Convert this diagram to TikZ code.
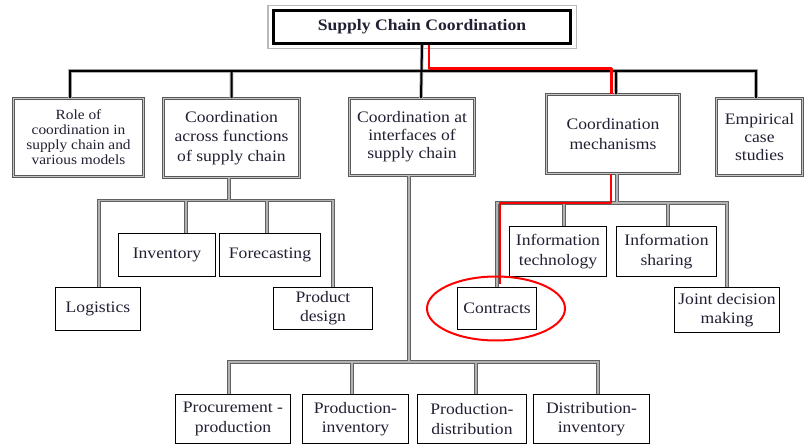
\documentclass[tikz,border=0pt]{standalone}
\usepackage{fontspec}
\setmainfont{Liberation Serif}[FakeStretch=1.1]
\definecolor{ink}{rgb}{0.13,0.13,0.2}
\definecolor{hilite}{rgb}{1,0,0}

\begin{document}
\begin{tikzpicture}[x=1pt,y=-1pt,
  every node/.style={text=ink, align=center, inner sep=0pt},
  headbox/.style={draw=black, line width=3pt, fill=white,
    minimum width=297pt, minimum height=33pt,
    font=\bfseries\fontsize{16}{19}\selectfont},
  topicbox/.style={draw=black!65, line width=0.9pt, double=gray!45,
    double distance=1.3pt, fill=white, font=\fontsize{16}{19.5}\selectfont},
  leafbox/.style={draw=black, line width=1.4pt, fill=white,
    font=\fontsize{16}{19.3}\selectfont},
  trunkline/.style={draw=gray!60, line width=0.8pt, double=black, double distance=2pt},
  branchline/.style={draw=black!62, line width=0.9pt, double=gray!60, double distance=1.4pt},
  redline/.style={draw=hilite, line width=2.4pt, line join=round}
]
\useasboundingbox (0,0) rectangle (806,446);

% root
\node[headbox] (head) at (422,27) {Supply Chain Coordination};
\draw[gray!55, line width=1.4pt] ([shift={(-4.2,-3.6)}]head.north west) rectangle ([shift={(4.2,3.6)}]head.south east);

% first level
\node[topicbox, minimum width=130pt, minimum height=78pt, font=\fontsize{14}{15}\selectfont]
  (role) at (78.5,137.5) {Role of\\coordination in\\supply chain and\\various models};
\node[topicbox, minimum width=136pt, minimum height=79pt]
  (across) at (231.5,138) {Coordination\\across functions\\of supply chain};
\node[topicbox, minimum width=125pt, minimum height=77pt, font=\fontsize{16}{18}\selectfont]
  (ifc) at (412,137) {Coordination at\\interfaces of\\supply chain};
\node[topicbox, minimum width=133pt, minimum height=79pt]
  (mech) at (613,134) {Coordination\\mechanisms};
\node[topicbox, minimum width=86pt, minimum height=77pt, font=\fontsize{16}{18}\selectfont]
  (emp) at (759.5,137) {Empirical\\case\\studies};

% functions
\node[leafbox, minimum width=96.6pt, minimum height=42.6pt] (inv) at (167,255) {Inventory};
\node[leafbox, minimum width=100.6pt, minimum height=42.6pt] (fcst) at (270,255) {Forecasting};
\node[leafbox, minimum width=84.6pt, minimum height=42.6pt] (logi) at (98,309) {Logistics};
\node[leafbox, minimum width=98.6pt, minimum height=41.6pt] (prod) at (323,308.5) {Product\\design};

% mechanisms
\node[leafbox, minimum width=96.6pt, minimum height=49.6pt] (itech) at (558,251.5) {Information\\technology};
\node[leafbox, minimum width=99.6pt, minimum height=49.6pt] (ishare) at (666.5,251.5) {Information\\sharing};
\node[leafbox, minimum width=78.6pt, minimum height=41.6pt] (contr) at (497,308.5) {Contracts};
\node[leafbox, minimum width=104.6pt, minimum height=44.6pt] (joint) at (727,310) {Joint decision\\making};

% interfaces
\node[leafbox, minimum width=114.6pt, minimum height=48.6pt] (procprod) at (233,419) {Procurement -\\production};
\node[leafbox, minimum width=105.6pt, minimum height=48.6pt] (prodinv) at (355.5,419) {Production-\\inventory};
\node[leafbox, minimum width=108.6pt, minimum height=48.6pt] (proddist) at (472,419) {Production-\\distribution};
\node[leafbox, minimum width=115.6pt, minimum height=48.6pt] (distinv) at (591.5,419) {Distribution-\\inventory};

% drop points of the connectors
\coordinate (bus) at (422,71);
\coordinate (roleTop) at ([xshift=-8.5pt]role.north);
\coordinate (ifcTop) at ([xshift=9pt]ifc.north);
\coordinate (mechTop) at ([xshift=3pt]mech.north);
\coordinate (empTop) at ([xshift=-3.5pt]emp.north);

\coordinate (acrossBot) at ([xshift=-2.5pt]across.south);
\coordinate (abus) at (229,200.5);
\coordinate (logiTop) at ([xshift=1pt]logi.north);
\coordinate (invTop) at ([xshift=19pt]inv.north);
\coordinate (fcstTop) at ([xshift=-3pt]fcst.north);
\coordinate (prodTop) at ([xshift=10pt]prod.north);

\coordinate (mechBot) at ([xshift=4pt]mech.south);
\coordinate (mbus) at (617,203);
\coordinate (itechTop) at ([xshift=6pt]itech.north);
\coordinate (ishareTop) at ([xshift=1.5pt]ishare.north);

\coordinate (ifcBot) at ([xshift=-3pt]ifc.south);
\coordinate (ibus) at (409,362);
\coordinate (ppTop) at ([xshift=-4pt]procprod.north);
\coordinate (piTop) at ([xshift=-3.5pt]prodinv.north);
\coordinate (pdTop) at ([xshift=4pt]proddist.north);
\coordinate (diTop) at ([xshift=6.5pt]distinv.north);

% root to first level
\draw[trunkline] (head.south) -- (ifcTop)
  (roleTop) |- (empTop |- bus) -- (empTop)
  (across.north) -- (across.north |- bus)
  (mechTop) -- (mechTop |- bus);

% functions
\draw[branchline] (acrossBot) -- (abus)
  (logiTop) |- (prodTop |- abus) -- (prodTop)
  (invTop) -- (invTop |- abus)
  (fcstTop) -- (fcstTop |- abus);

% mechanisms
\draw[branchline] (mechBot) -- (mbus)
  (contr.north) |- (joint.north |- mbus) -- (joint.north)
  (itechTop) -- (itechTop |- mbus)
  (ishareTop) -- (ishareTop |- mbus);

% interfaces
\draw[branchline] (ifcBot) -- (ibus)
  (ppTop) |- (diTop |- ibus) -- (diTop)
  (piTop) -- (piTop |- ibus)
  (pdTop) -- (pdTop |- ibus);

% highlighted route to contracts
\coordinate (redbus) at (520,68.5);
\coordinate (redmid) at (560,203);
\draw[redline] ([xshift=7pt]head.south) |- (redbus) -| ([xshift=-1.5pt]mech.north);
\draw[redline] ([xshift=-2pt]mech.south) |- (redmid) -| ([xshift=3pt,yshift=3pt]contr.north);
\draw[redline, line width=2pt] ([xshift=-1pt]contr.center) ellipse [x radius=69, y radius=32];
\end{tikzpicture}
\end{document}
